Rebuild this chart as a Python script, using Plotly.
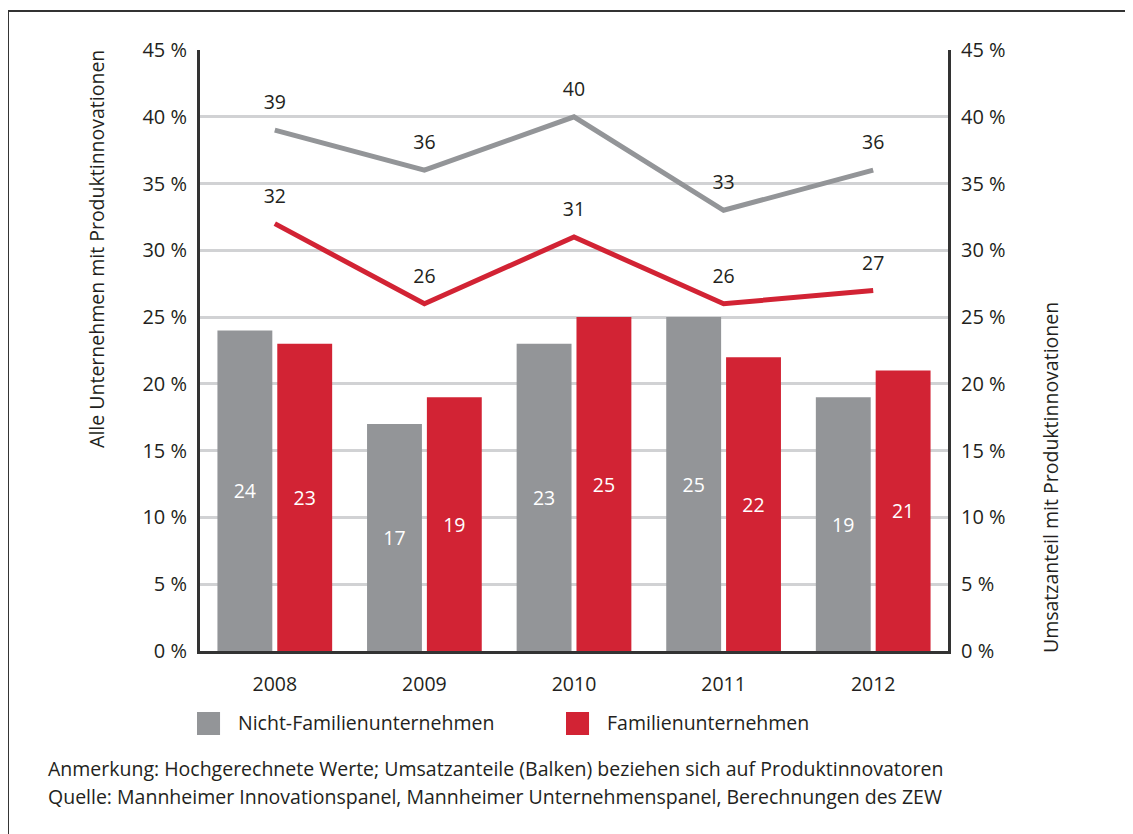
import plotly.graph_objects as go

years = ["2008", "2009", "2010", "2011", "2012"]
# Umsatzanteil mit Produktinnovationen (Balken)
umsatz_nicht_fam = [24, 17, 23, 25, 19]
umsatz_fam = [23, 19, 25, 22, 21]
# Alle Unternehmen mit Produktinnovationen (Linien)
alle_nicht_fam = [39, 36, 40, 33, 36]
alle_fam = [32, 26, 31, 26, 27]
tick_vals = [0, 5, 10, 15, 20, 25, 30, 35, 40, 45]
tick_text = [f"{v} %" for v in tick_vals]

GRAY = "#939598"
RED = "#d22334"
TXT = "#231f20"
FONT = "Open Sans"
FS = 19.5

fig = go.Figure()

fig.add_trace(go.Bar(x=years, y=umsatz_nicht_fam, name="Nicht-Familienunternehmen",
                     marker=dict(color=GRAY, line=dict(width=0)),
                     text=umsatz_nicht_fam, textposition="inside", insidetextanchor="middle",
                     textfont=dict(color="white", size=FS, family=FONT)))
fig.add_trace(go.Bar(x=years, y=umsatz_fam, name="Familienunternehmen",
                     marker=dict(color=RED, line=dict(width=0)),
                     text=umsatz_fam, textposition="inside", insidetextanchor="middle",
                     textfont=dict(color="white", size=FS, family=FONT)))

for vals, color in [(alle_nicht_fam, GRAY), (alle_fam, RED)]:
    fig.add_trace(go.Scatter(x=years, y=vals, mode="lines+markers+text", yaxis="y2",
                             line=dict(color=color, width=5),
                             marker=dict(size=24, opacity=0),
                             text=vals, textposition="top center",
                             textfont=dict(color=TXT, size=FS, family=FONT),
                             showlegend=False, cliponaxis=False))

axis_common = dict(range=[0, 45], tickvals=tick_vals, ticktext=tick_text,
                   showline=True, linecolor="#333333", linewidth=3, ticks="",
                   tickfont=dict(size=20, color=TXT, family=FONT), zeroline=False,
                   ticklabelstandoff=6)

fig.update_layout(
    width=1133, height=834, autosize=False,
    margin=dict(l=192, r=193, t=42, b=191),
    paper_bgcolor="white", plot_bgcolor="white",
    barmode="group", bargap=0.2, bargroupgap=0.083,
    showlegend=False,
    font=dict(family=FONT, color=TXT),
    xaxis=dict(showline=True, linecolor="#333333", linewidth=3, ticks="",
               tickfont=dict(size=FS, color=TXT, family=FONT), ticklabelstandoff=14,
               range=[-0.5, 4.5]),
    yaxis=dict(**axis_common, showgrid=True, gridcolor="#d1d2d4", gridwidth=3),
    yaxis2=dict(**axis_common, overlaying="y", side="right", showgrid=False),
)

ann = dict(xref="paper", yref="paper", showarrow=False, font=dict(size=FS, color=TXT, family=FONT))

# Achsentitel
fig.add_annotation(text="Alle Unternehmen mit Produktinnovationen", x=-0.1377, y=0.669,
                   textangle=-90, xanchor="center", yanchor="middle", **ann)
fig.add_annotation(text="Umsatzanteil mit Produktinnovationen", x=1.1364, y=0.2878,
                   textangle=-90, xanchor="center", yanchor="middle", **ann)

# Legende
for x0, color, label in [(-0.004, GRAY, "Nicht-Familienunternehmen"), (0.4893, RED, "Familienunternehmen")]:
    fig.add_shape(type="rect", xref="paper", yref="paper", x0=x0, x1=x0 + 0.0308,
                  y0=-0.1398, y1=-0.1015, fillcolor=color, line=dict(width=0))
    fig.add_annotation(text=label, x=x0 + 0.052, y=-0.1198,
                       xanchor="left", yanchor="middle", **ann)

# Fußnoten
fig.add_annotation(text="Anmerkung: Hochgerechnete Werte; Umsatzanteile (Balken) beziehen sich auf Produktinnovatoren",
                   x=-0.2059, y=-0.1963, xanchor="left", yanchor="middle", **ann)
fig.add_annotation(text="Quelle: Mannheimer Innovationspanel, Mannheimer Unternehmenspanel, Berechnungen des ZEW",
                   x=-0.2059, y=-0.2429, xanchor="left", yanchor="middle", **ann)

# Rahmen
fig.add_shape(type="line", xref="paper", yref="paper", x0=-0.2567, x1=1.3, y0=1.0649, y1=1.0649,
              line=dict(color="#333333", width=2))
fig.add_shape(type="line", xref="paper", yref="paper", x0=-0.2567, x1=-0.2567, y0=1.0649, y1=-0.35,
              line=dict(color="#333333", width=2))

fig.write_html("out.html")
